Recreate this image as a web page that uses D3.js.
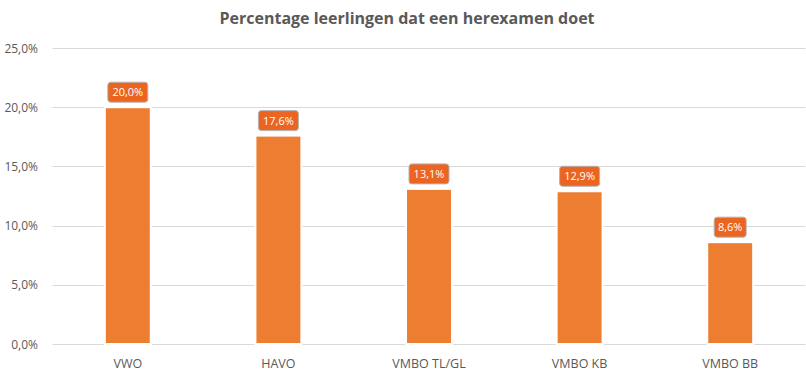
<!DOCTYPE html>
<html>
<head>
<meta charset="utf-8">
<script src="https://cdn.jsdelivr.net/npm/d3@7"></script>
<style>
  body { margin: 0; background: #fff; }
  svg { display: block; font-family: "Open Sans", "DejaVu Sans", sans-serif; }
</style>
</head>
<body>
<script>
  /* chart data */
  var categories = ["VWO", "HAVO", "VMBO TL/GL", "VMBO KB", "VMBO BB"];
  var values = [20.0, 17.6, 13.1, 12.9, 8.6];
  var yTicks = [0, 5, 10, 15, 20, 25];
  var title = "Percentage leerlingen dat een herexamen doet";

  var width = 806, height = 380;
  var plotLeft = 52.5, plotRight = 805.5, plotTop = 48, plotBottom = 344;

  var fmt = function (v) { return v.toFixed(1).replace(".", ",") + "%"; };

  var svg = d3.select("body").append("svg")
      .attr("width", width)
      .attr("height", height);

  var x = d3.scaleBand().domain(categories).range([plotLeft, plotRight]).paddingInner(0.695).paddingOuter(0.3475);
  var y = d3.scaleLinear().domain([0, 25]).range([plotBottom, plotTop]);

  /* title */
  svg.append("text")
      .attr("x", 407).attr("y", 24)
      .attr("text-anchor", "middle")
      .style("font-size", "16px")
      .style("font-weight", "bold")
      .style("fill", "#595959")
      .text(title);

  /* gridlines */
  svg.append("g").selectAll("line")
    .data(yTicks).enter().append("line")
      .attr("x1", plotLeft).attr("x2", plotRight)
      .attr("y1", function (d) { return Math.round(y(d)) + 0.5; })
      .attr("y2", function (d) { return Math.round(y(d)) + 0.5; })
      .style("stroke", "#d9d9d9").style("stroke-width", 1);

  /* y labels */
  svg.append("g").selectAll("text")
    .data(yTicks).enter().append("text")
      .attr("x", 38)
      .attr("y", function (d) { return y(d) + 4.5; })
      .attr("text-anchor", "end")
      .style("font-size", "12px")
      .style("fill", "#595959")
      .text(fmt);

  /* bars */
  svg.append("g").selectAll("rect")
    .data(values).enter().append("rect")
      .attr("x", function (d, i) { return x(categories[i]); })
      .attr("width", x.bandwidth())
      .attr("y", function (d) { return y(d); })
      .attr("height", function (d) { return y(0) - y(d); })
      .style("fill", "#ED7D31")
      .style("stroke", "#fff")
      .style("stroke-width", 2);

  /* value labels */
  var lab = svg.append("g").selectAll("g")
    .data(values).enter().append("g")
      .attr("transform", function (d, i) {
        return "translate(" + (x(categories[i]) + x.bandwidth() / 2) + "," + (y(d) - 15) + ")";
      });
  lab.append("rect")
      .attr("x", function (d) { return d >= 10 ? -20 : -16; })
      .attr("width", function (d) { return d >= 10 ? 40 : 32; })
      .attr("y", -10).attr("height", 20)
      .attr("rx", 3)
      .style("fill", "#EB6420")
      .style("stroke", "#b4b4b4")
      .style("stroke-width", 1);
  lab.append("text")
      .attr("y", 4)
      .attr("text-anchor", "middle")
      .style("font-size", "11px")
      .style("fill", "#fff")
      .text(fmt);

  /* x labels */
  svg.append("g").selectAll("text")
    .data(categories).enter().append("text")
      .attr("x", function (d) { return x(d) + x.bandwidth() / 2; })
      .attr("y", 368)
      .attr("text-anchor", "middle")
      .style("font-size", "12.5px")
      .style("fill", "#595959")
      .text(function (d) { return d; });
</script>
</body>
</html>
